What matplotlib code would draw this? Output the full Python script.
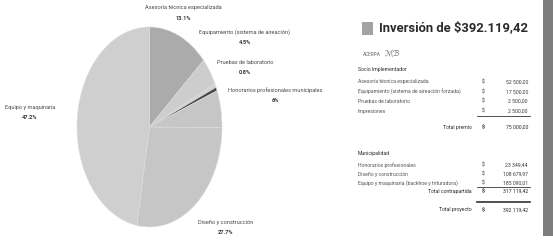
import matplotlib
matplotlib.use("Agg")
import matplotlib.pyplot as plt
from matplotlib.patches import Rectangle

# ---- data ----
slice_names = ["Asesoría técnica especializada", "Equipamiento (sistema de aireación)",
               "Pruebas de laboratorio", "Impresiones", "Honorarios profesionales municipales",
               "Diseño y construcción", "Equipo y maquinaria"]
slice_pct = [13.4, 4.5, 0.6, 0.6, 6.0, 27.7, 47.2]
slice_labels = ["13.1%", "4.5%", "0.8%", "", "6%", "27.7%", "47.2%"]
slice_colors = ["#ababab", "#cdcdcd", "#d3d3d3", "#4a4a4a", "#c6c6c6", "#c6c6c6", "#cfcfcf"]

socio_items = ["Asesoría técnica especializada",
               "Equipamiento (sistema de aireación forzada)",
               "Pruebas de laboratorio", "Impresiones"]
socio_amounts = ["52 500,00", "17 500,00", "2 500,00", "2 500,00"]
muni_items = ["Honorarios profesionales", "Diseño y construcción",
              "Equipo y maquinaria (backhoe y trituradora)"]
muni_amounts = ["23 349,44", "108 679,97", "185 090,01"]
totals = {"premio": "75 000,00", "contrapartida": "317 119,42", "proyecto": "392 119,42"}

W, H = 553, 244
FONT = "Roboto"

def fx(x):
    return x / W

def fy(y):
    return 1 - y / H

fig = plt.figure(figsize=(W / 100, H / 100), dpi=100)
fig.patch.set_facecolor("white")

# ---- pie (squashed into an ellipse like the scan) ----
ax = fig.add_axes([fx(77), fy(227), fx(222) - fx(77), fy(27) - fy(227)])
ax.pie(slice_pct, colors=slice_colors, startangle=90, counterclock=False,
       wedgeprops=dict(linewidth=0.4, edgecolor="#dddddd"))
ax.set_aspect("auto")
ax.set_xlim(-1, 1)
ax.set_ylim(-1, 1)
ax.axis("off")

# label positions (pixels) for each slice name / value
label_pos = [(183, 8), (245, 32), (245, 62), None, (275, 90), (226, 222), (30, 107)]
for name, lab, pos in zip(slice_names, slice_labels, label_pos):
    if pos is None:
        continue
    fig.text(fx(pos[0]), fy(pos[1]), name, fontsize=4.1, color="#4a4a4a",
             ha="center", va="center", family=FONT)
    fig.text(fx(pos[0]), fy(pos[1] + 10), lab, fontsize=4.1, color="#3a3a3a",
             ha="center", va="center", family=FONT, weight="bold")

# ---- right panel ----
fig.patches.append(Rectangle((fx(362), fy(35)), fx(11), 13 / H, transform=fig.transFigure,
                             facecolor="#a3a3a3", edgecolor="none"))
fig.text(fx(379), fy(28), "Inversión de $392.119,42", fontsize=9.4, weight="bold",
         color="#2a2a2a", ha="left", va="center", family=FONT)
fig.text(fx(363), fy(55), "ACERPA", fontsize=3.4, color="#666666", ha="left",
         va="center", family=FONT)
fig.text(fx(385), fy(53), "ℳℬ", fontsize=6, color="#777777", ha="left", va="center")

tkw = dict(fontsize=3.7, family=FONT, va="center")
x_lab, x_dol, x_amt, x_tot = 358, 483, 528, 472

fig.text(fx(x_lab), fy(69), "Socio Implementador", color="#2a2a2a", ha="left", **tkw)
for i, (it, am) in enumerate(zip(socio_items, socio_amounts)):
    y = 82 + 9.7 * i
    fig.text(fx(x_lab), fy(y), it, color="#555555", ha="left", **tkw)
    fig.text(fx(x_dol), fy(y), "$", color="#2a2a2a", ha="center", **tkw)
    fig.text(fx(x_amt), fy(y), am, color="#3a3a3a", ha="right", **tkw)
fig.add_artist(plt.Line2D([fx(477), fx(530)], [fy(116), fy(116)], color="#333333", lw=0.6))
fig.text(fx(x_tot), fy(127), "Total premio", color="#2a2a2a", ha="right", **tkw)
fig.text(fx(x_dol), fy(127), "$", color="#222222", ha="center", weight="bold", **tkw)
fig.text(fx(x_amt), fy(127), totals["premio"], color="#2a2a2a", ha="right", **tkw)

fig.text(fx(x_lab), fy(154), "Municipalidad", color="#2a2a2a", ha="left", **tkw)
for i, (it, am) in enumerate(zip(muni_items, muni_amounts)):
    y = 165 + 9 * i
    fig.text(fx(x_lab), fy(y), it, color="#555555", ha="left", **tkw)
    fig.text(fx(x_dol), fy(y), "$", color="#2a2a2a", ha="center", **tkw)
    fig.text(fx(x_amt), fy(y), am, color="#3a3a3a", ha="right", **tkw)
fig.add_artist(plt.Line2D([fx(477), fx(530)], [fy(187), fy(187)], color="#333333", lw=0.6))
fig.text(fx(x_tot), fy(191), "Total contrapartida", color="#2a2a2a", ha="right", **tkw)
fig.text(fx(x_dol), fy(191), "$", color="#222222", ha="center", weight="bold", **tkw)
fig.text(fx(x_amt), fy(191), totals["contrapartida"], color="#2a2a2a", ha="right", **tkw)

fig.add_artist(plt.Line2D([fx(477), fx(530)], [fy(202), fy(202)], color="#333333", lw=1.2))
fig.text(fx(x_tot), fy(210), "Total proyecto", color="#2a2a2a", ha="right", **tkw)
fig.text(fx(x_dol), fy(210), "$", color="#222222", ha="center", weight="bold", **tkw)
fig.text(fx(x_amt), fy(210), totals["proyecto"], color="#2a2a2a", ha="right", **tkw)

# dark scanner strip on the right edge
fig.patches.append(Rectangle((fx(543), fy(236)), 1 - fx(543), 236 / H,
                             transform=fig.transFigure, facecolor="#7d7d7d", edgecolor="none"))

fig.savefig("out.png", dpi=100)
